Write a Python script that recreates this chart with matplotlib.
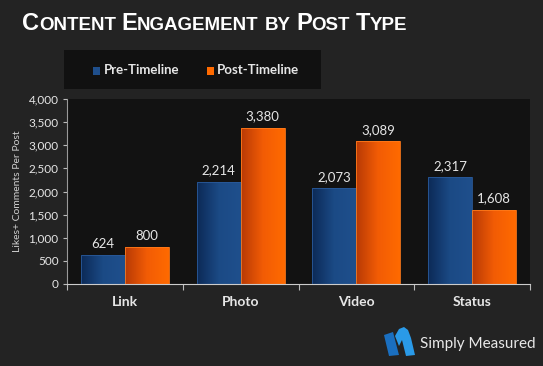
import numpy as np
import matplotlib
matplotlib.use("Agg")
import matplotlib.pyplot as plt
from matplotlib.patches import Rectangle, Polygon
from matplotlib.colors import LinearSegmentedColormap

plt.rcParams["font.family"] = ["Lato", "DejaVu Sans"]

categories = ["Link", "Photo", "Video", "Status"]
pre_timeline = [624, 2214, 2073, 2317]
post_timeline = [800, 3380, 3089, 1608]
series_names = ["Pre-Timeline", "Post-Timeline"]

BG = "#232323"
PLOT_BG = "#121212"
TXT = "#e6e6e6"

blue_cmap = LinearSegmentedColormap.from_list("b", ["#0c2a57", "#1b4a85", "#1f4f8c"])
orange_cmap = LinearSegmentedColormap.from_list("o", ["#b83a06", "#f25c05", "#ff6a00"])

fig = plt.figure(figsize=(5.43, 3.66), dpi=100, facecolor=BG)
ax = fig.add_axes([67 / 543, 82 / 366, 463 / 543, 185 / 366])
ax.set_facecolor(PLOT_BG)

x = np.arange(len(categories))
w = 0.38
grad = np.linspace(0, 1, 64).reshape(1, -1)


def grad_bars(xs, vals, cmap, edge):
    bars = ax.bar(xs, vals, w, color="none", edgecolor=edge, linewidth=0.6, zorder=3)
    for b in bars:
        im = ax.imshow(grad, cmap=cmap, aspect="auto", zorder=2,
                       extent=[b.get_x(), b.get_x() + b.get_width(), 0, b.get_height()])
        im.set_clip_path(b)
    return bars


b1 = grad_bars(x - w / 2, pre_timeline, blue_cmap, "#2a5a9a")
b2 = grad_bars(x + w / 2, post_timeline, orange_cmap, "#ff7a1a")

for bars, vals in ((b1, pre_timeline), (b2, post_timeline)):
    for b, v in zip(bars, vals):
        ax.text(b.get_x() + b.get_width() / 2, v + 110, f"{v:,}", ha="center", va="bottom",
                fontsize=9.5, color=TXT, zorder=4)

ax.set_xlim(-0.5, len(categories) - 0.5)
ax.set_ylim(0, 4000)
ax.set_yticks(range(0, 4001, 500))
ax.set_yticklabels([f"{t:,}" for t in range(0, 4001, 500)], fontsize=8.5, color=TXT)
ax.set_xticks(np.arange(-0.5, len(categories), 1))
ax.set_xticklabels([])
ax.set_xticks(x, minor=True)
ax.set_xticklabels(categories, minor=True, fontsize=10, fontweight="bold", color=TXT)
ax.tick_params(axis="x", which="minor", length=0, pad=9)
ax.tick_params(axis="x", which="major", length=4, color="#bbbbbb", direction="out")
ax.tick_params(axis="y", length=3, color="#bbbbbb", direction="out", pad=3)
for s in ("top", "right"):
    ax.spines[s].set_visible(False)
ax.spines["left"].set_color("#999999")
ax.spines["bottom"].set_color("#cccccc")
ax.spines["left"].set_linewidth(0.8)
ax.spines["bottom"].set_linewidth(0.8)
ax.set_ylabel("Likes+ Comments Per Post", fontsize=7.5, color="#cfcfcf", labelpad=5)

# title in small caps
words = [("C", "ONTENT"), ("E", "NGAGEMENT"), ("", "BY"), ("P", "OST"), ("T", "YPE")]
renderer = fig.canvas.get_renderer()
tx = 22 / 543
ty = 1 - 30 / 366
for big, small in words:
    for part, size in ((big, 17), (small, 13.5)):
        if not part:
            continue
        t = fig.text(tx, ty, part, fontsize=size, fontweight="bold", color="white",
                     family="Liberation Sans", ha="left", va="baseline")
        bb = t.get_window_extent(renderer)
        tx += bb.width / 543
    tx += 5.5 / 543

# legend box
fig.patches.append(Rectangle((64 / 543, 1 - 89 / 366), 257 / 543, 39 / 366,
                             transform=fig.transFigure, facecolor="#111111", edgecolor="none"))
fig.patches.append(Rectangle((93 / 543, 1 - 75 / 366), 7 / 543, 8 / 366,
                             transform=fig.transFigure, facecolor="#1f4f8c", edgecolor="none"))
fig.text(104 / 543, 1 - 70 / 366, series_names[0], fontsize=9.5, fontweight="bold",
         color=TXT, va="center")
fig.patches.append(Rectangle((207 / 543, 1 - 75 / 366), 7 / 543, 8 / 366,
                             transform=fig.transFigure, facecolor="#ff6a00", edgecolor="none"))
fig.text(217 / 543, 1 - 70 / 366, series_names[1], fontsize=9.5, fontweight="bold",
         color=TXT, va="center")

# Simply Measured logo
left_part = [(384, 335), (393, 332), (399, 355), (389, 356)]
right_part = [(395, 336), (399, 329), (404, 327), (408, 330), (411, 338), (415, 355),
              (406, 356), (402, 340), (399, 346)]
for shape, col in ((left_part, "#1a6fc0"), (right_part, "#2a9ae8")):
    fig.patches.append(Polygon([(px / 543, 1 - py / 366) for px, py in shape], closed=True,
                               transform=fig.transFigure, facecolor=col, edgecolor="none"))
fig.text(420 / 543, 1 - 344 / 366, "Simply Measured", fontsize=11, color="#e8e8e8",
         va="center", ha="left")

fig.savefig("out.png", dpi=100, facecolor=BG)
